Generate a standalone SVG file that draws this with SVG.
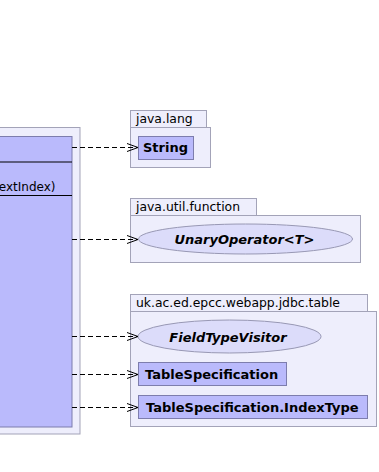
<svg xmlns="http://www.w3.org/2000/svg" width="379" height="472" viewBox="0 0 379 472">
<defs>
<style>
.pkg{fill:#eeeefc;stroke:#a3a3b8;stroke-width:1}
.cls{fill:#babafc;stroke:#7d7dad;stroke-width:1}
.ifc{fill:#dcdcfa;stroke:#9898b4;stroke-width:1}
.sep{stroke:#000;stroke-width:1}
.plabel{font-family:"DejaVu Sans",sans-serif;font-size:12.4px;fill:#000}
.clabel{font-family:"DejaVu Sans",sans-serif;font-size:13px;font-weight:bold;fill:#000}
.ilabel{font-family:"DejaVu Sans",sans-serif;font-size:13px;font-weight:bold;font-style:italic;fill:#000;text-anchor:middle}
.mlabel{font-family:"DejaVu Sans",sans-serif;font-size:12px;fill:#000}
.dep{fill:none;stroke:#000;stroke-width:1;stroke-dasharray:5,3;marker-end:url(#open)}
</style>
<marker id="open" markerWidth="12" markerHeight="10" refX="11" refY="5" orient="auto" markerUnits="userSpaceOnUse">
<path d="M0,1 L11,5 L0,9" fill="none" stroke="#000" stroke-width="1"/>
</marker>
</defs>
<rect width="379" height="472" fill="#fff"/>

<g id="source-package">
<rect class="pkg" x="-10" y="127.5" width="90" height="306.5"/>
</g>
<g id="source-class">
<rect class="cls" x="-10" y="136.5" width="82" height="290.5"/>
<line class="sep" x1="-10" y1="162" x2="72" y2="162"/>
<line class="sep" x1="-10" y1="195.5" x2="72" y2="195.5"/>
<text class="mlabel" x="55.5" y="191" text-anchor="end">extIndex)</text>
</g>

<g id="pkg-java-lang">
<rect class="pkg" x="130.5" y="110.5" width="76" height="17"/>
<rect class="pkg" x="130.5" y="127.5" width="80" height="40"/>
<text class="plabel" x="136" y="123">java.lang</text>
</g>
<g id="String">
<rect class="cls" x="138.5" y="136.5" width="55" height="23"/>
<text class="clabel" x="143" y="152">String</text>
</g>

<g id="pkg-java-util-function">
<rect class="pkg" x="130.5" y="198.5" width="126" height="17"/>
<rect class="pkg" x="130.5" y="215.5" width="230" height="47"/>
<text class="plabel" x="136" y="211">java.util.function</text>
</g>
<g id="UnaryOperator">
<ellipse class="ifc" cx="245.5" cy="239" rx="107" ry="15"/>
<text class="ilabel" x="244.5" y="244">UnaryOperator&lt;T&gt;</text>
</g>

<g id="pkg-uk-ac-ed-epcc-webapp-jdbc-table">
<rect class="pkg" x="130.5" y="294.5" width="237" height="17"/>
<rect class="pkg" x="130.5" y="311.5" width="246" height="115"/>
<text class="plabel" x="136" y="307">uk.ac.ed.epcc.webapp.jdbc.table</text>
</g>
<g id="FieldTypeVisitor">
<ellipse class="ifc" cx="229.5" cy="336.5" rx="91.5" ry="16.5"/>
<text class="ilabel" x="228" y="341.5">FieldTypeVisitor</text>
</g>
<g id="TableSpecification">
<rect class="cls" x="138.5" y="362.5" width="148" height="23"/>
<text class="clabel" x="145" y="378.5">TableSpecification</text>
</g>
<g id="TableSpecification.IndexType">
<rect class="cls" x="138.5" y="395.5" width="229" height="23"/>
<text class="clabel" x="146" y="411.5">TableSpecification.IndexType</text>
</g>

<g id="connectors">
<line class="dep" x1="72" y1="147.5" x2="138" y2="147.5"/>
<line class="dep" x1="72" y1="239.5" x2="138" y2="239.5"/>
<line class="dep" x1="72" y1="336.5" x2="138" y2="336.5"/>
<line class="dep" x1="72" y1="374.5" x2="138" y2="374.5"/>
<line class="dep" x1="72" y1="407.5" x2="138" y2="407.5"/>
</g>
</svg>
